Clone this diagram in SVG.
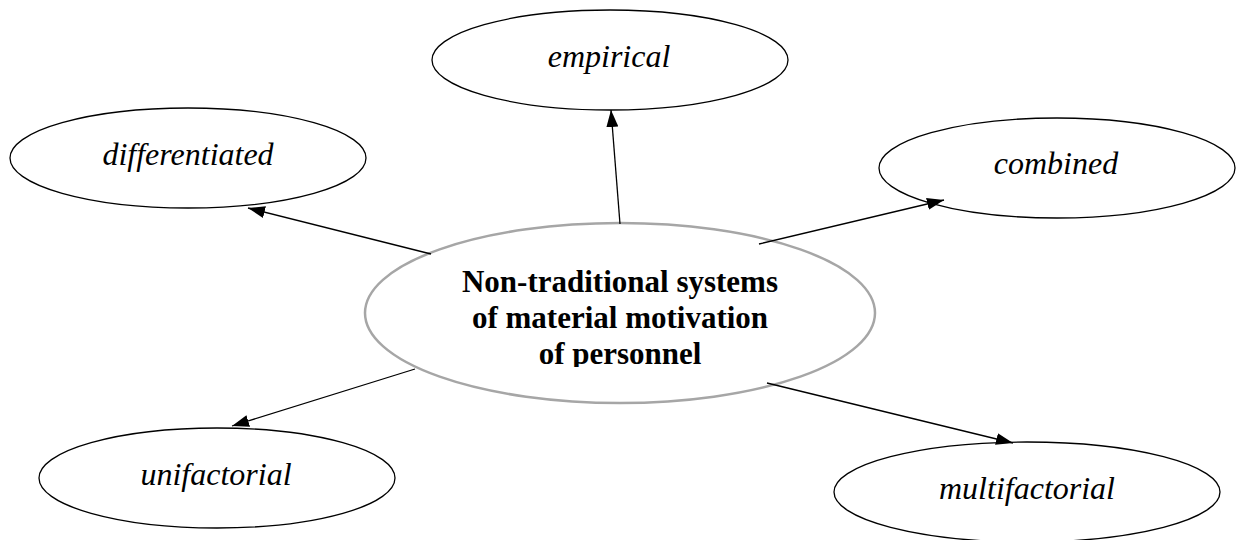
<svg xmlns="http://www.w3.org/2000/svg" width="1239" height="540" viewBox="0 0 1239 540">
<style>
.n{fill:#fff;stroke:#000;stroke-width:1.3}
.c{fill:#fff;stroke:#a6a6a6;stroke-width:2.5}
.t{font-family:"Liberation Serif","Times New Roman",serif;font-style:italic;font-size:32px;fill:#000;text-anchor:middle}
.b{font-family:"Liberation Serif","Times New Roman",serif;font-weight:bold;font-size:31px;fill:#000;text-anchor:middle}
.e{stroke:#000;stroke-width:1.3;fill:none;marker-end:url(#ah)}
</style>
<defs>
<marker id="ah" viewBox="0 0 17 12" refX="17" refY="6" markerWidth="17" markerHeight="12" markerUnits="userSpaceOnUse" orient="auto">
<path d="M0,0 L17,6 L0,12 z" fill="#000"/>
</marker>
<clipPath id="cc"><rect x="365" y="250" width="510" height="117"/></clipPath>
</defs>
<g id="empirical"><ellipse class="n" cx="610" cy="60" rx="178" ry="50"/><text class="t" x="609" y="67">empirical</text></g>
<g id="differentiated"><ellipse class="n" cx="188" cy="158" rx="178" ry="50"/><text class="t" x="188" y="165">differentiated</text></g>
<g id="combined"><ellipse class="n" cx="1057" cy="168" rx="178" ry="50"/><text class="t" x="1056" y="174">combined</text></g>
<g id="unifactorial"><ellipse class="n" cx="217" cy="478" rx="178" ry="50"/><text class="t" x="216" y="485">unifactorial</text></g>
<g id="multifactorial"><ellipse class="n" cx="1027" cy="492" rx="193" ry="50"/><text class="t" x="1027" y="499">multifactorial</text></g>
<g id="center"><ellipse class="c" cx="620" cy="313" rx="255" ry="90"/>
<text class="b" clip-path="url(#cc)"><tspan x="620" y="292">Non-traditional systems</tspan><tspan x="620" y="328">of material motivation</tspan><tspan x="620" y="364">of personnel</tspan></text></g>
<g id="connectors">
<line class="e" x1="620" y1="224" x2="611" y2="110"/>
<line class="e" x1="431" y1="254" x2="248" y2="208"/>
<line class="e" x1="759" y1="244" x2="944" y2="200"/>
<line class="e" x1="415" y1="369" x2="232" y2="426"/>
<line class="e" x1="767" y1="383" x2="1013" y2="443"/>
</g>
</svg>
